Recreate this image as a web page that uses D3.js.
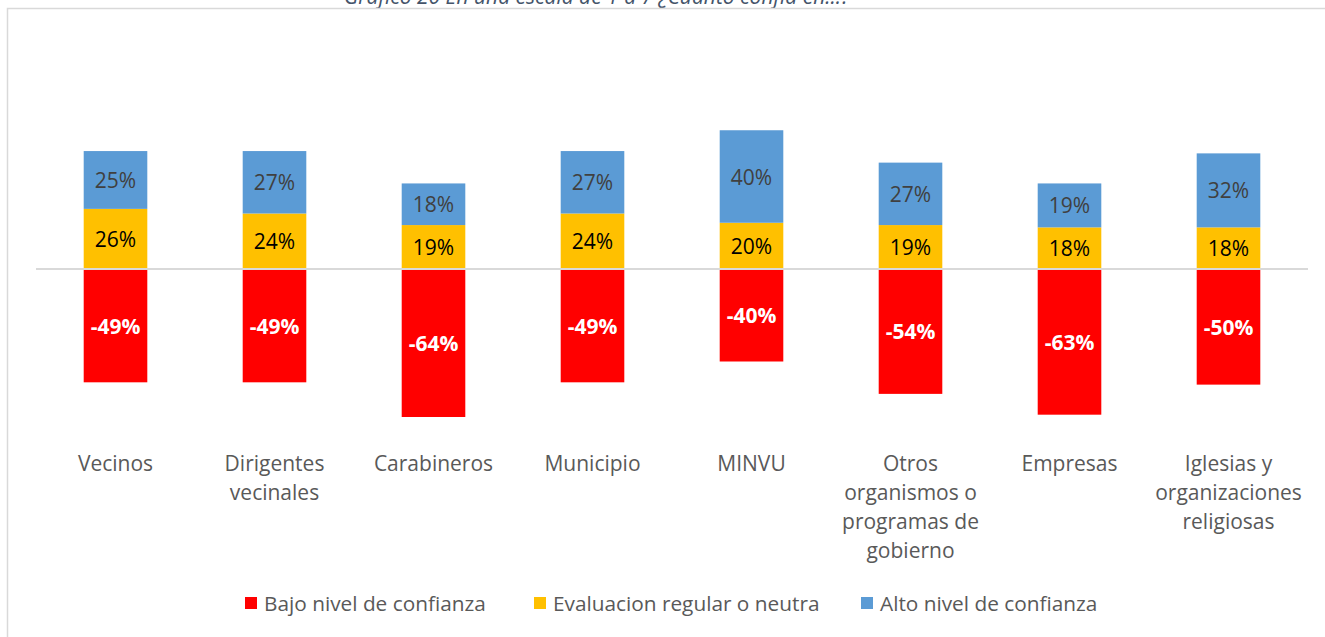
<!DOCTYPE html>
<html>
<head>
<meta charset="utf-8">
<script src="https://cdn.jsdelivr.net/npm/d3@7"></script>
<style>
  body { margin: 0; background: #fff; }
  svg { display: block; font-family: "Open Sans", "Noto Sans", sans-serif; }
</style>
</head>
<body>
<div class="chart"></div>
<script>
// values (shares, bajo is drawn below zero)
const categories = ['Vecinos', 'Dirigentes vecinales', 'Carabineros', 'Municipio', 'MINVU',
    'Otros organismos o programas de gobierno', 'Empresas', 'Iglesias y organizaciones religiosas'];
const bajo = [49, 49, 64, 49, 40, 54, 63, 50];
const regular = [26, 24, 19, 24, 20, 19, 18, 18];
const alto = [25, 27, 18, 27, 40, 27, 19, 32];
const seriesNames = ['Bajo nivel de confianza', 'Evaluacion regular o neutra', 'Alto nivel de confianza'];
const colors = ['#FF0000', '#FFC000', '#5B9BD5'];

const width = 1325, height = 637;

const svg = d3.select('.chart')
    .append('svg')
    .attr('width', width)
    .attr('height', height);

// title, mostly cut off by the top edge as in the source
svg.append('text')
    .attr('x', 597)
    .attr('y', 4)
    .attr('text-anchor', 'middle')
    .style('font-style', 'italic')
    .style('font-size', '21px')
    .style('fill', '#44546A')
    .text('Gráfico 20 En una escala de 1 a 7 ¿Cuánto confía en...?');

// chart frame
svg.append('rect')
    .attr('x', 7.5)
    .attr('y', 8.5)
    .attr('width', 1340)
    .attr('height', 660)
    .attr('fill', 'none')
    .attr('stroke', '#D9D9D9')
    .attr('stroke-width', 1.5);

const x = d3.scaleBand()
    .domain(categories)
    .range([36, 1308])
    .paddingInner(0.6)
    .paddingOuter(0.3);

const y = d3.scaleLinear()
    .domain([-80, 80])
    .range([454, 84]);

// stacked rows: [start, end] per series
const rows = categories.map((c, i) => ({
    cat: c,
    segs: [
        { s: 0, y0: -bajo[i], y1: 0, v: -bajo[i] },
        { s: 1, y0: 0, y1: regular[i], v: regular[i] },
        { s: 2, y0: regular[i], y1: regular[i] + alto[i], v: alto[i] }
    ]
}));

const g = svg.append('g');

rows.forEach(r => {
    r.segs.forEach(d => {
        g.append('rect')
            .attr('x', x(r.cat))
            .attr('y', y(d.y1))
            .attr('width', x.bandwidth())
            .attr('height', y(d.y0) - y(d.y1))
            .attr('fill', colors[d.s]);
    });
});

// zero line
svg.append('line')
    .attr('x1', 36)
    .attr('x2', 1308)
    .attr('y1', y(0))
    .attr('y2', y(0))
    .attr('stroke', '#D9D9D9')
    .attr('stroke-width', 2);

// data labels
const labelFill = ['#FFFFFF', '#000000', '#404040'];
rows.forEach(r => {
    r.segs.forEach(d => {
        g.append('text')
            .attr('x', x(r.cat) + x.bandwidth() / 2)
            .attr('y', (y(d.y0) + y(d.y1)) / 2 + 8)
            .attr('text-anchor', 'middle')
            .style('font-size', '21px')
            .style('font-weight', d.s === 0 ? 'bold' : 'normal')
            .style('fill', labelFill[d.s])
            .text(d.v + '%');
    });
});

// category labels, wrapped
function wrap(textSel, maxW) {
    textSel.each(function() {
        const t = d3.select(this);
        const words = t.text().split(' ');
        const cx = t.attr('x');
        t.text(null);
        let line = [];
        let tspan = t.append('tspan').attr('x', cx).attr('dy', 0);
        words.forEach(w => {
            line.push(w);
            tspan.text(line.join(' '));
            if (tspan.node().getComputedTextLength() > maxW && line.length > 1) {
                line.pop();
                tspan.text(line.join(' '));
                line = [w];
                tspan = t.append('tspan').attr('x', cx).attr('dy', 29).text(w);
            }
        });
    });
}

svg.append('g').selectAll('text')
    .data(categories)
    .join('text')
    .attr('x', d => x(d) + x.bandwidth() / 2)
    .attr('y', 471)
    .attr('text-anchor', 'middle')
    .style('font-size', '21px')
    .style('fill', '#595959')
    .text(d => d)
    .call(wrap, 150);

// legend
const legendX = [245, 534, 861];
seriesNames.forEach((n, i) => {
    svg.append('rect')
        .attr('x', legendX[i])
        .attr('y', 597)
        .attr('width', 12)
        .attr('height', 12)
        .attr('fill', colors[i]);
    svg.append('text')
        .attr('x', legendX[i] + 19)
        .attr('y', 611)
        .style('font-size', '20.8px')
        .style('fill', '#595959')
        .text(n);
});
</script>
</body>
</html>
